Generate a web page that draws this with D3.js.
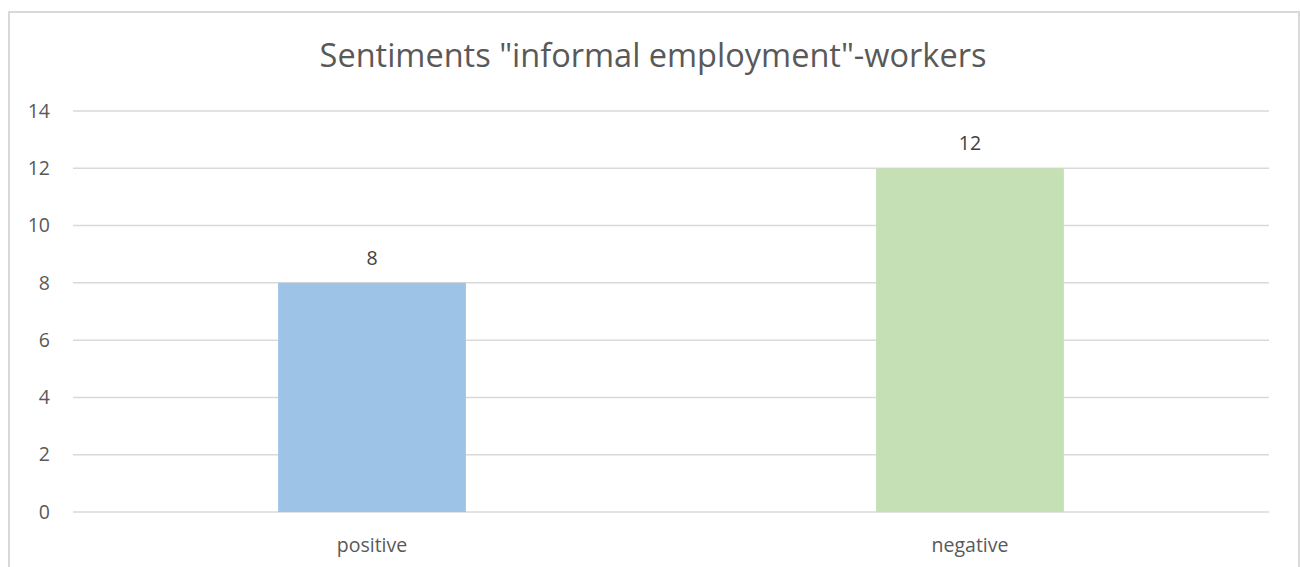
<!DOCTYPE html>
<html>
<head>
<meta charset="utf-8">
<script src="https://cdn.jsdelivr.net/npm/d3@7"></script>
<style>
  body { margin: 0; background: #fff; }
  text { font-family: "Open Sans", sans-serif; }
</style>
</head>
<body>
<div id="chart"></div>
<script>
const categories = ['positive', 'negative'];
const values = [8, 12];
const barColors = ['#9dc3e6', '#c5e0b4'];
const yTicks = [0, 2, 4, 6, 8, 10, 12, 14];
const chartTitle = 'Sentiments "informal employment"-workers';

const width = 1300;
const height = 567;
const plotLeft = 73;
const plotRight = 1269;
const plotTop = 111;
const plotBottom = 512;

const svg = d3.select('#chart')
    .append('svg')
    .attr('width', width)
    .attr('height', height);

// outer chart frame (bottom edge falls outside the window)
svg.append('rect')
    .attr('x', 9)
    .attr('y', 12)
    .attr('width', 1290)
    .attr('height', 600)
    .attr('fill', 'none')
    .attr('stroke', '#d9d9d9')
    .attr('stroke-width', 2);

const xScale = d3.scaleBand()
    .domain(categories)
    .range([plotLeft, plotRight])
    .paddingInner(0.686)
    .paddingOuter(0.343);

const yScale = d3.scaleLinear()
    .domain([0, 14])
    .range([plotBottom, plotTop]);

// gridlines
svg.append('g')
    .selectAll('line')
    .data(yTicks)
    .enter()
    .append('line')
    .attr('x1', plotLeft)
    .attr('x2', plotRight)
    .attr('y1', d => yScale(d))
    .attr('y2', d => yScale(d))
    .attr('stroke', '#d9d9d9')
    .attr('stroke-width', 1.5);

// y axis labels
const yAxis = d3.axisLeft(yScale)
    .tickValues(yTicks)
    .tickSize(0)
    .tickPadding(23);

svg.append('g')
    .attr('transform', 'translate(' + plotLeft + ',0)')
    .call(yAxis)
    .call(g => g.select('.domain').remove())
    .call(g => g.selectAll('text')
        .attr('fill', '#595959')
        .style('font-size', '19.5px'));

// bars
svg.append('g')
    .selectAll('rect')
    .data(values)
    .enter()
    .append('rect')
    .attr('x', (d, i) => xScale(categories[i]))
    .attr('y', d => yScale(d))
    .attr('width', xScale.bandwidth())
    .attr('height', d => plotBottom - yScale(d))
    .attr('fill', (d, i) => barColors[i]);

// value labels
svg.append('g')
    .selectAll('text')
    .data(values)
    .enter()
    .append('text')
    .attr('x', (d, i) => xScale(categories[i]) + xScale.bandwidth() / 2)
    .attr('y', d => yScale(d) - 18)
    .attr('text-anchor', 'middle')
    .attr('fill', '#404040')
    .style('font-size', '19.5px')
    .text(d => d);

// x axis labels
const xAxis = d3.axisBottom(xScale)
    .tickSize(0)
    .tickPadding(26);

svg.append('g')
    .attr('transform', 'translate(0,' + plotBottom + ')')
    .call(xAxis)
    .call(g => g.select('.domain').remove())
    .call(g => g.selectAll('text')
        .attr('fill', '#595959')
        .style('font-size', '19.5px'));

// title
svg.append('text')
    .attr('x', 653)
    .attr('y', 67)
    .attr('text-anchor', 'middle')
    .attr('fill', '#595959')
    .style('font-size', '32.5px')
    .text(chartTitle);
</script>
</body>
</html>
